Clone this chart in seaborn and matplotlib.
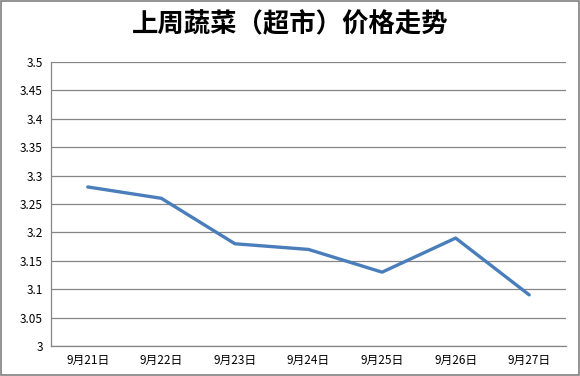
import matplotlib
matplotlib.use("Agg")
import matplotlib.pyplot as plt
import seaborn as sns
import pandas as pd

dates = ["9月21日", "9月22日", "9月23日", "9月24日", "9月25日", "9月26日", "9月27日"]
prices = [3.28, 3.26, 3.18, 3.17, 3.13, 3.19, 3.09]
y_ticks = [3, 3.05, 3.1, 3.15, 3.2, 3.25, 3.3, 3.35, 3.4, 3.45, 3.5]
y_labels = ["3", "3.05", "3.1", "3.15", "3.2", "3.25", "3.3", "3.35", "3.4", "3.45", "3.5"]

sns.set_style("white")
plt.rcParams['font.family'] = ['Noto Sans CJK SC', 'DejaVu Sans']

df = pd.DataFrame({"date": dates, "price": prices})

fig = plt.figure(figsize=(5.8, 3.76), dpi=100)
ax = fig.add_axes([51 / 580, 1 - 346 / 376, 515 / 580, 284 / 376])

sns.lineplot(data=df, x="date", y="price", ax=ax, color="#4a7ebb", linewidth=2.4, sort=False)

grid_c = "#868686"
ax.set_ylim(3, 3.5)
ax.set_yticks(y_ticks)
ax.set_yticklabels(y_labels, fontsize=8.5)
ax.yaxis.grid(True, color=grid_c, linewidth=0.9)
ax.set_axisbelow(True)
ax.set_xlim(-0.5, len(dates) - 0.5)
ax.set_xticks(range(len(dates)))
ax.set_xticklabels(dates, fontsize=8.5)
ax.set_xticks([i - 0.5 for i in range(len(dates) + 1)], minor=True)
ax.tick_params(axis="x", which="major", length=0, pad=6, labelcolor="black")
ax.tick_params(axis="x", which="minor", length=4, color=grid_c, width=0.9)
ax.tick_params(axis="y", length=4, color=grid_c, width=0.9, pad=2, labelcolor="black")
ax.set_xlabel("")
ax.set_ylabel("")
for s in ["top", "right"]:
    ax.spines[s].set_visible(False)
for s in ["left", "bottom"]:
    ax.spines[s].set_color(grid_c)
    ax.spines[s].set_linewidth(0.9)

fig.text(0.5, 1 - 25 / 376, "上周蔬菜（超市）价格走势", ha="center", va="center",
         fontsize=19, fontweight="bold", color="black")

fig.patches.append(plt.Rectangle((0.001, 0.002), 0.997, 0.996, transform=fig.transFigure,
                                 fill=False, edgecolor="#808080", linewidth=1.2))

fig.savefig("out.png", dpi=100)
